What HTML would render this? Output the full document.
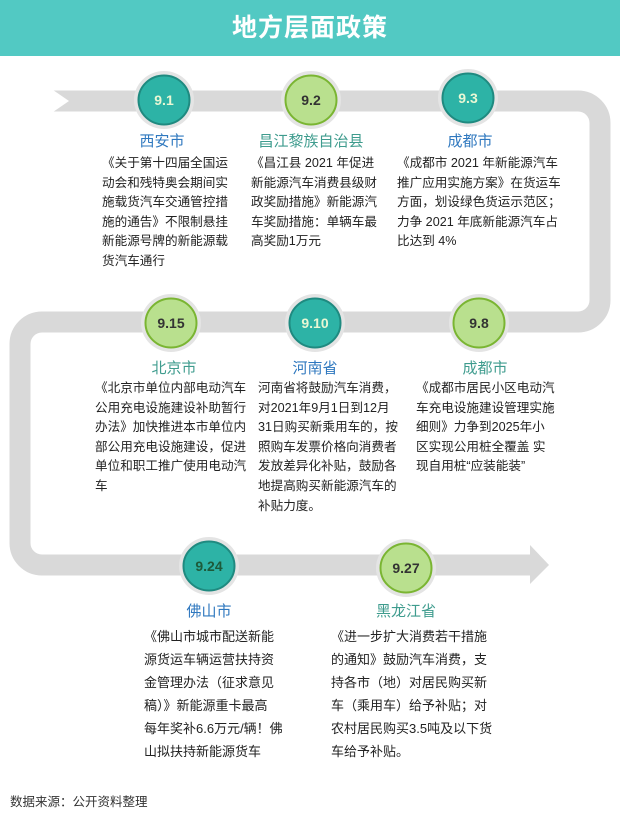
<!DOCTYPE html>
<html><head><meta charset="utf-8"><style>
body{margin:0;width:620px;height:823px;background:#fff;position:relative;overflow:hidden;font-family:"Liberation Sans","Noto Sans CJK SC",sans-serif;}
.hd{position:absolute;left:0;top:0;width:620px;height:56px;background:#52c9c3;color:#fff;font-size:25px;font-weight:bold;text-align:center;line-height:56px;letter-spacing:1px}
.t{position:absolute;font-size:15px;text-align:center;white-space:nowrap;transform:translateX(-50%);line-height:20px}
.b{position:absolute;font-size:12.6px;color:#222;white-space:nowrap;line-height:19.6px}
.blue{color:#2f78bf}.teal{color:#3f9c8e}
svg{position:absolute;left:0;top:0}
</style></head><body>
<div class="hd">地方层面政策</div>
<svg width="620" height="823">
<path d="M53 101 H578 A22 22 0 0 1 600 123 V300 A22 22 0 0 1 578 322 H42 A22 22 0 0 0 20 344 V543 A22 22 0 0 0 42 565 H532" fill="none" stroke="#d9d9d9" stroke-width="21"/>
<polygon points="53,90 69,101 53,112" fill="#fff"/>
<polygon points="530,545 549,565 530,584" fill="#d9d9d9"/>
<g font-family="Liberation Sans,sans-serif" font-size="14" font-weight="bold" text-anchor="middle">
<g><ellipse cx="164" cy="100" rx="30" ry="29" fill="#e4e4e4"/><ellipse cx="164" cy="100" rx="25.5" ry="24.5" fill="#2db3a6" stroke="#1f8a80" stroke-width="2"/><text x="164" y="105" fill="#e9f7d4">9.1</text></g>
<g><ellipse cx="311" cy="100" rx="30" ry="29" fill="#e4e4e4"/><ellipse cx="311" cy="100" rx="25.5" ry="24.5" fill="#b9e08e" stroke="#7ab532" stroke-width="2"/><text x="311" y="105" fill="#333">9.2</text></g>
<g><ellipse cx="468" cy="98" rx="30" ry="29" fill="#e4e4e4"/><ellipse cx="468" cy="98" rx="25.5" ry="24.5" fill="#2db3a6" stroke="#1f8a80" stroke-width="2"/><text x="468" y="103" fill="#e9f7d4">9.3</text></g>
<g><ellipse cx="171" cy="323" rx="30" ry="29" fill="#e4e4e4"/><ellipse cx="171" cy="323" rx="25.5" ry="24.5" fill="#b9e08e" stroke="#7ab532" stroke-width="2"/><text x="171" y="328" fill="#333">9.15</text></g>
<g><ellipse cx="315" cy="323" rx="30" ry="29" fill="#e4e4e4"/><ellipse cx="315" cy="323" rx="25.5" ry="24.5" fill="#2db3a6" stroke="#1f8a80" stroke-width="2"/><text x="315" y="328" fill="#e9f7d4">9.10</text></g>
<g><ellipse cx="479" cy="323" rx="30" ry="29" fill="#e4e4e4"/><ellipse cx="479" cy="323" rx="25.5" ry="24.5" fill="#b9e08e" stroke="#7ab532" stroke-width="2"/><text x="479" y="328" fill="#333">9.8</text></g>
<g><ellipse cx="209" cy="566" rx="30" ry="29" fill="#e4e4e4"/><ellipse cx="209" cy="566" rx="25.5" ry="24.5" fill="#2db3a6" stroke="#1f8a80" stroke-width="2"/><text x="209" y="571" fill="#1d5a3a">9.24</text></g>
<g><ellipse cx="406" cy="568" rx="30" ry="29" fill="#e4e4e4"/><ellipse cx="406" cy="568" rx="25.5" ry="24.5" fill="#b9e08e" stroke="#7ab532" stroke-width="2"/><text x="406" y="573" fill="#333">9.27</text></g>
</g>
</svg>
<div class="t blue" style="left:162px;top:132px">西安市</div>
<div class="t teal" style="left:311px;top:132px">昌江黎族自治县</div>
<div class="t blue" style="left:470px;top:132px">成都市</div>
<div class="b" style="left:102px;top:154px">《关于第十四届全国运<br>动会和残特奥会期间实<br>施载货汽车交通管控措<br>施的通告》不限制悬挂<br>新能源号牌的新能源载<br>货汽车通行</div>
<div class="b" style="left:251px;top:154px">《昌江县 2021 年促进<br>新能源汽车消费县级财<br>政奖励措施》新能源汽<br>车奖励措施：单辆车最<br>高奖励1万元</div>
<div class="b" style="left:397px;top:154px">《成都市 2021 年新能源汽车<br>推广应用实施方案》在货运车<br>方面，划设绿色货运示范区；<br>力争 2021 年底新能源汽车占<br>比达到 4%</div>
<div class="t teal" style="left:174px;top:359px">北京市</div>
<div class="t blue" style="left:315px;top:359px">河南省</div>
<div class="t teal" style="left:485px;top:359px">成都市</div>
<div class="b" style="left:95px;top:379px">《北京市单位内部电动汽车<br>公用充电设施建设补助暂行<br>办法》加快推进本市单位内<br>部公用充电设施建设，促进<br>单位和职工推广使用电动汽<br>车</div>
<div class="b" style="left:258px;top:379px">河南省将鼓励汽车消费，<br>对2021年9月1日到12月<br>31日购买新乘用车的，按<br>照购车发票价格向消费者<br>发放差异化补贴，鼓励各<br>地提高购买新能源汽车的<br>补贴力度。</div>
<div class="b" style="left:416px;top:379px">《成都市居民小区电动汽<br>车充电设施建设管理实施<br>细则》力争到2025年小<br>区实现公用桩全覆盖 实<br>现自用桩“应装能装”</div>
<div class="t blue" style="left:209px;top:602px">佛山市</div>
<div class="t teal" style="left:406px;top:602px">黑龙江省</div>
<div class="b" style="left:144px;top:625px;line-height:23px;font-size:13px">《佛山市城市配送新能<br>源货运车辆运营扶持资<br>金管理办法（征求意见<br>稿）》新能源重卡最高<br>每年奖补6.6万元/辆！佛<br>山拟扶持新能源货车</div>
<div class="b" style="left:331px;top:625px;line-height:23px;font-size:13px">《进一步扩大消费若干措施<br>的通知》鼓励汽车消费，支<br>持各市（地）对居民购买新<br>车（乘用车）给予补贴；对<br>农村居民购买3.5吨及以下货<br>车给予补贴。</div>
<div class="b" style="left:10px;top:793px;font-size:12.5px;color:#333">数据来源：公开资料整理</div>
</body></html>
